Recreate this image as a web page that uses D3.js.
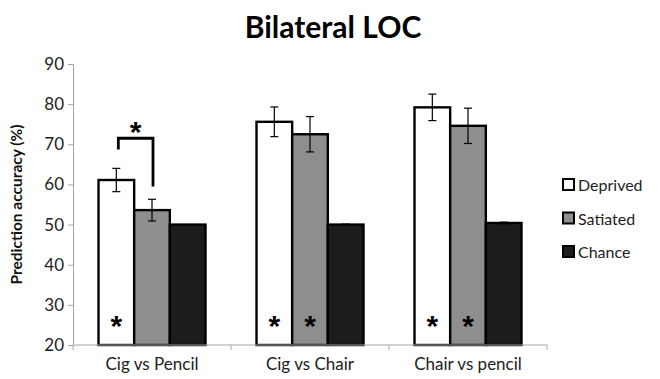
<!DOCTYPE html>
<html>
<head>
<meta charset="utf-8">
<script src="https://cdn.jsdelivr.net/npm/d3@7"></script>
<style>
  body { margin: 0; background: #fff; }
  svg { display: block; font-family: Lato, "Open Sans", sans-serif; }
</style>
</head>
<body>
<svg id="chart" width="660" height="379"></svg>
<script>
// Comparisons along the x axis
const categories = ["Cig vs Pencil", "Cig vs Chair", "Chair vs pencil"];
// Conditions (series)
const seriesNames = ["Deprived", "Satiated", "Chance"];
// Mean prediction accuracy (%) per condition, per comparison
const deprived = [61.1, 75.6, 79.2];
const satiated = [53.6, 72.5, 74.6];
const chance = [50.0, 50.0, 50.4];
// Standard error half-widths
const deprivedErr = [2.9, 3.7, 3.3];
const satiatedErr = [2.7, 4.4, 4.4];
const chanceErr = [0, 0.1, 0.2];
// Significance markers inside bars (per series, per comparison)
const deprivedSig = [true, true, true];
const satiatedSig = [false, true, true];
// Y axis ticks
const yTicks = [20, 30, 40, 50, 60, 70, 80, 90];

const fills = ["#ffffff", "#8e8e8e", "#1c1c1c"];
const values = [deprived, satiated, chance];
const errs = [deprivedErr, satiatedErr, chanceErr];
const sigs = [deprivedSig, satiatedSig, [false, false, false]];

const svg = d3.select("#chart");
const margin = { left: 73, right: 113, top: 64, bottom: 34 };
const W = 660, H = 379;
const starFont = "'Liberation Sans', Arial, sans-serif";

const x = d3.scaleBand().domain(categories).range([margin.left, W - margin.right]).paddingInner(0).paddingOuter(0);
const xInner = d3.scaleBand().domain(seriesNames).range([0, x.bandwidth()]).paddingOuter(0.715).paddingInner(0);
const y = d3.scaleLinear().domain([20, 90]).range([H - margin.bottom, margin.top]);

// Title
svg.append("text").attr("x", 333).attr("y", 38).attr("text-anchor", "middle")
  .attr("font-size", 30).attr("font-weight", "bold").attr("fill", "#000")
  .text("Bilateral LOC");

// Y axis
const yAxis = svg.append("g").attr("transform", `translate(${margin.left},0)`)
  .call(d3.axisLeft(y).tickValues(yTicks).tickSize(5).tickPadding(4));
yAxis.select(".domain").attr("stroke", "#a6a6a6");
yAxis.selectAll(".tick line").attr("stroke", "#a6a6a6");
yAxis.selectAll(".tick text").attr("font-size", 17).attr("fill", "#222").attr("font-family", "Lato, 'Open Sans', sans-serif");

// Y axis label
svg.append("text").attr("transform", `translate(22,${(y(20) + y(90)) / 2}) rotate(-90)`)
  .attr("text-anchor", "middle").attr("font-size", 15.5).attr("font-weight", "bold").attr("fill", "#111")
  .text("Prediction accuracy (%)");

// Bars
const groups = svg.selectAll("g.grp").data(categories).enter().append("g")
  .attr("transform", d => `translate(${x(d)},0)`);
seriesNames.forEach((s, si) => {
  groups.append("rect")
    .attr("x", xInner(s)).attr("width", xInner.bandwidth())
    .attr("y", (d, ci) => y(values[si][ci]))
    .attr("height", (d, ci) => y(20) - y(values[si][ci]))
    .attr("fill", fills[si]).attr("stroke", "#000").attr("stroke-width", 2.4);
});

// X axis with separators between categories
const xAxisG = svg.append("g");
xAxisG.append("line").attr("x1", margin.left).attr("x2", W - margin.right)
  .attr("y1", y(20)).attr("y2", y(20)).attr("stroke", "#a6a6a6").attr("stroke-width", 1.2);
const seps = categories.map(c => x(c)).concat([x(categories[categories.length - 1]) + x.bandwidth()]);
xAxisG.selectAll("line.sep").data(seps).enter().append("line").attr("class", "sep")
  .attr("x1", d => d).attr("x2", d => d).attr("y1", y(20)).attr("y2", y(20) + 5)
  .attr("stroke", "#a6a6a6");
xAxisG.selectAll("text").data(categories).enter().append("text")
  .attr("x", d => x(d) + x.bandwidth() / 2).attr("y", y(20) + 25)
  .attr("text-anchor", "middle").attr("font-size", 17).attr("fill", "#222").text(d => d);

// Error bars
seriesNames.forEach((s, si) => {
  const cx = xInner(s) + xInner.bandwidth() / 2;
  groups.each(function (d, ci) {
    const e = errs[si][ci];
    if (!e) return;
    const v = values[si][ci];
    const g = d3.select(this);
    g.append("line").attr("x1", cx).attr("x2", cx).attr("y1", y(v + e)).attr("y2", y(v - e))
      .attr("stroke", "#000").attr("stroke-width", 1.2);
    [v + e, v - e].forEach(t => g.append("line").attr("x1", cx - 4).attr("x2", cx + 4)
      .attr("y1", y(t)).attr("y2", y(t)).attr("stroke", "#000").attr("stroke-width", 1.2));
  });
});

// Significance stars inside bars
seriesNames.forEach((s, si) => {
  const cx = xInner(s) + xInner.bandwidth() / 2;
  groups.each(function (d, ci) {
    if (!sigs[si][ci]) return;
    d3.select(this).append("text").attr("x", cx).attr("y", y(20) - 9)
      .attr("text-anchor", "middle").attr("font-size", 30).attr("font-weight", "bold")
      .attr("font-family", starFont).attr("fill", "#000").text("*");
  });
});

// Deprived vs Satiated bracket for the first comparison
{
  const c = categories[0];
  const x1 = x(c) + xInner(seriesNames[0]) + xInner.bandwidth() / 2 + 2;
  const x2 = x(c) + xInner(seriesNames[1]) + xInner.bandwidth() / 2 + 1;
  const top = y(71.5);
  svg.append("path")
    .attr("d", `M${x1},${y(68.7)}V${top}H${x2}V${y(59.5)}`)
    .attr("fill", "none").attr("stroke", "#000").attr("stroke-width", 2.8);
  svg.append("text").attr("x", (x1 + x2) / 2).attr("y", top + 4)
    .attr("text-anchor", "middle").attr("font-size", 30).attr("font-weight", "bold")
    .attr("font-family", starFont).attr("fill", "#000").text("*");
}

// Legend
const legend = svg.append("g");
seriesNames.forEach((s, si) => {
  const ly = 185 + si * 33.5;
  legend.append("rect").attr("x", 563).attr("y", ly - 6).attr("width", 11).attr("height", 11)
    .attr("fill", fills[si]).attr("stroke", "#000").attr("stroke-width", 2);
  legend.append("text").attr("x", 578).attr("y", ly + 6).attr("font-size", 16).attr("fill", "#222").text(s);
});
</script>
</body>
</html>
